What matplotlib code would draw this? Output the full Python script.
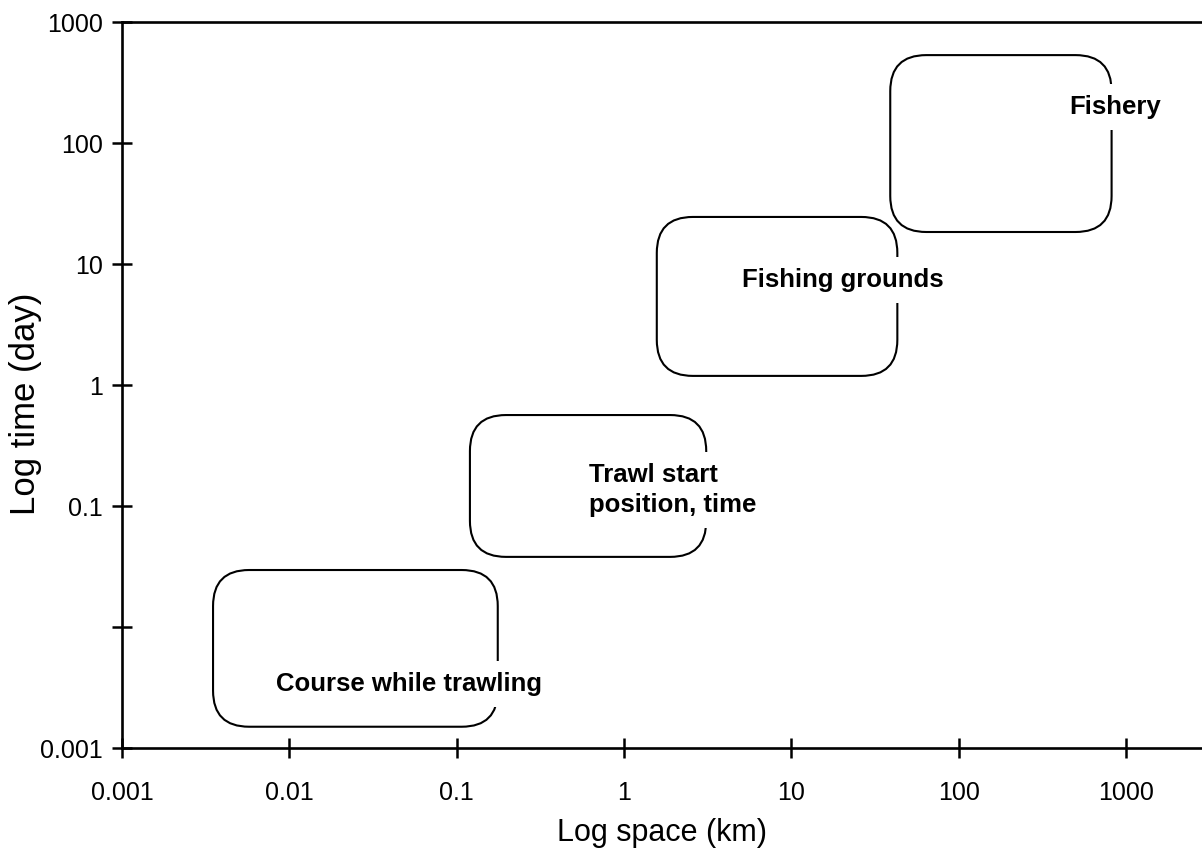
import matplotlib
matplotlib.use("Agg")
import matplotlib.pyplot as plt
from matplotlib.patches import FancyBboxPatch
from matplotlib.transforms import IdentityTransform

plt.rcParams['font.family'] = ['Liberation Sans', 'DejaVu Sans']

# scale boxes: (space_min, space_max) km and (time_min, time_max) day
box_names = ["Course while trawling", "Trawl start\nposition, time",
             "Fishing grounds", "Fishery"]
space_lo = [0.0035, 0.12, 1.57, 39]
space_hi = [0.176, 3.1, 43, 820]
time_lo = [0.0015, 0.038, 1.19, 18.4]
time_hi = [0.0296, 0.565, 24.5, 533]

# label anchor points (data coords) and alignment
label_x = [0.052, 0.616, 20.3, 855]
label_y = [0.00338, 0.1355, 7.38, 198]
label_ha = ["center", "left", "center", "center"]

tick_vals = [0.001, 0.01, 0.1, 1, 10, 100, 1000]
x_ticklabels = ["0.001", "0.01", "0.1", "1", "10", "100", "1000"]
y_ticklabels = ["0.001", "", "0.1", "1", "10", "100", "1000"]

fig = plt.figure(figsize=(12.02, 8.61), dpi=100)
ax = fig.add_axes([0.1015, 0.1312, 0.8985, 0.8432])
ax.set_xscale("log")
ax.set_yscale("log")
ax.set_xlim(0.001, 2845)
ax.set_ylim(0.001, 1000)

ax.set_xticks(tick_vals)
ax.set_xticklabels(x_ticklabels)
ax.set_yticks(tick_vals)
ax.set_yticklabels(y_ticklabels)
ax.minorticks_off()
ax.tick_params(direction="inout", length=14, width=1.8, labelsize=18, pad=7)
ax.tick_params(axis="x", pad=17)

for side in ["left", "top", "bottom"]:
    ax.spines[side].set_linewidth(1.9)
ax.spines["right"].set_visible(False)

ax.set_xlabel("Log space (km)", fontsize=22, labelpad=9)
ax.set_ylabel("Log time (day)", fontsize=25)
ax.yaxis.set_label_coords(-0.074, 0.474)

for i in range(len(box_names)):
    x0, y0 = ax.transData.transform((space_lo[i], time_lo[i]))
    x1, y1 = ax.transData.transform((space_hi[i], time_hi[i]))
    patch = FancyBboxPatch((x0, y0), x1 - x0, y1 - y0,
                           boxstyle="round,pad=0,rounding_size=36",
                           transform=IdentityTransform(), clip_on=False,
                           facecolor="none", edgecolor="black", linewidth=1.5,
                           zorder=2)
    ax.add_patch(patch)
    ax.text(label_x[i], label_y[i], box_names[i], fontsize=18.5, fontweight="bold",
            ha=label_ha[i], va="center", linespacing=1.28, zorder=5,
            bbox=dict(facecolor="white", edgecolor="none", pad=8))

fig.savefig("out.png", dpi=100)
